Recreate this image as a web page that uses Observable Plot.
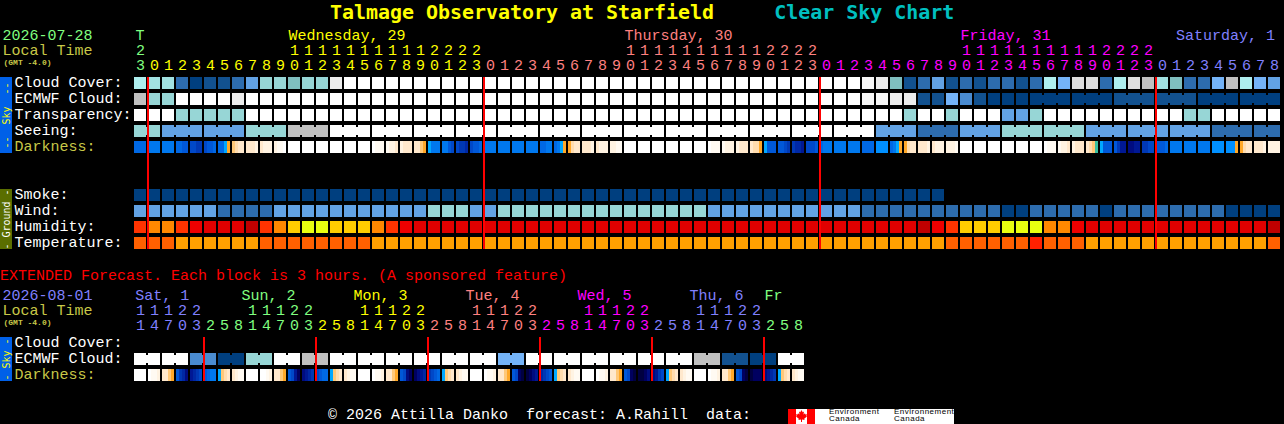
<!DOCTYPE html>
<html>
<head>
<meta charset="utf-8">
<script src="https://cdn.jsdelivr.net/npm/d3@7"></script>
<script src="https://cdn.jsdelivr.net/npm/@observablehq/plot@0.6"></script>
<style>
html,body{margin:0;padding:0;background:#000;overflow:hidden;width:1284px;height:424px}
#title{height:26px;box-sizing:border-box;padding-left:330px;font:bold 19.95px/24px "DejaVu Sans Mono",monospace;white-space:pre;color:#ffff00}
#title span{color:#00c0c0}
#ext{height:20px;font:15px/21px "Liberation Mono",monospace;color:#ff0000;white-space:pre}
#foot{position:relative;height:38px;font:15px "Liberation Mono",monospace;color:#fff;white-space:pre}
#foot .t{position:absolute;left:328px;top:21px;line-height:17px}
#logo{position:absolute;left:788px;top:23px;width:166px;height:15px;background:#fff;font:8px/7px "Liberation Sans",sans-serif;letter-spacing:.5px;color:#000}
#logo i{position:absolute;top:0;width:8px;height:15px;background:#f00}
#logo b{position:absolute;top:-1px;font-weight:normal;white-space:pre}
svg{display:block}
</style>
</head>
<body>
<div id="title">Talmage Observatory at Starfield     <span>Clear Sky Chart</span></div>
<div id="main"></div>
<div id="ext">EXTENDED Forecast. Each block is 3 hours. (A sponsored feature)</div>
<div id="extChart"></div>
<div id="foot"><div class="t">© 2026 Attilla Danko  forecast: A.Rahill  data:</div>
<div id="logo"><i style="left:0"></i><i style="left:19px"></i>
<svg style="position:absolute;left:8px;top:1px" width="11" height="12" viewBox="0 0 11 12"><polygon fill="#f00" points="5.5,0 6.7,2.2 8,1.6 7.5,4.4 9,3.2 9.4,4.4 11,4.2 10.4,6 11,6.6 8.2,8.8 8.6,10 6,9.6 6,12 5,12 5,9.6 2.4,10 2.8,8.8 0,6.6 0.6,6 0,4.2 1.6,4.4 2,3.2 3.5,4.4 3,1.6 4.3,2.2"/></svg>
<b style="left:41px">Environment
Canada</b><b style="left:106px">Environnement
Canada</b></div></div>

<script>
// ---------- block colours ----------
const skyPalette = {0:"#003f7f",1:"#12518f",2:"#2d6cae",3:"#62a2e4",4:"#74b3f7",E:"#4a8bd0",
  5:"#aeeeee",6:"#a2e2e2",7:"#97d6d6",8:"#7fbfbf",9:"#c0c0c0",A:"#dedede",B:"#ececec",D:"#f7f7f7",C:"#ffffff"};
const heatPalette = {d:"#bf0000",r:"#e00000",e:"#ee0000",x:"#ff2000",s:"#ff3300",f:"#ff6000",o:"#ff8800",a:"#ffa000",m:"#ffcc00",y:"#e8ff10"};
const darkPalette = {a:"#ffffff",b:"#fffaf2",c:"#fff3e2",d:"#ffe8cc",e:"#ffdcae",f:"#ffc878",g:"#ffa828",h:"#38c0a0",
  i:"#00a8ff",j:"#0090ff",k:"#0078ee",l:"#0068e4",m:"#0058d8",n:"#0048c8",o:"#0038b4",p:"#0028a4",q:"#001894",r:"#000c80",s:"#000060",t:"#000040"};

// ---------- hourly values, written as code*count runs ----------
const cloudCover = "5 6*2 2 0 1*2 2 3 7*2 8 7*2 B C*37 D B 8 1 2 3 1 2 1 2*2 1 2 5 4 A*2 2 5 A 9 6 8 2*2 4 9 5 4 3";
const ecmwfCloud = "9 7*2 C*4 B C*44 D*2 B*2 1*2 4 E 1 0*9 1*6 0*6";
const transparency = "C*3 7*5 C*47 7 C*2 7 C*3 3*2 7 C*10 7*2 C*5";
const seeing = "7*2 3*6 7*3 9*3 C*39 3*3 2*3 3*3 7*6 3*9 2*5";
const smoke = "0*58";
const wind = "3*6 2*4 3*11 7*3 3*2 7*15 3*11 2*10 0*2 2*5 0 2*8 0*4";
const humidity = "s o*2 s e r*3 d s o m y*2 m*3 o s e r*36 d e s m*3 y*3 o*2 e r*13 d";
const temperature = "f*3 a*6 f*8 a*41 f*6 x f*3 a*13 f";
const darkness = ["llll","kkkk","kkkk","llmm","nnoo","nmml","llig","fedd","dddc","dccc","cbba",
  "aaaa","aaaa","aaaa","aaaa","aaaa","aaaa","abbb","bccd","cddd","ddfg",
  "ikkk","kkmn","noop","nmml","kkkk","kkkk","kkkk","kkkk","llkk","lkig","gedd","dddc","dccc","ccbb",
  "aaaa","aaaa","aaaa","aaaa","aaaa","aaaa","abbb","bccc","cddd","deeg",
  "immm","mmno","oppq","nnnm","lkkk","kkkk","kkkk","llll","jjjj","lkig","gedd","dddc","dccc","cccb",
  "aaaa","aaaa","aaaa","aaaa","aaaa","aaaa","abbb","bccd","cddd","defh",
  "immm","moqq","rrqq","oonn","mmml","kkkk","kkkk","kkkk","jjjj","jjjg","gedd","dddc","cccc"];
const hourOnes = "3"+"012345678901234567890123"+"012345678901234567890123"+"012345678901234567890123"+"012345678";
const hourTens = "2"+"          11111111112222"+"          11111111112222"+"          11111111112222"+"         ";
const midnights = [1,25,49,73];
const seeingJoined = [[0,2],[2,3],[5,3],[8,3],[11,3],[14,3],[17,3],[20,3],[23,3],[26,3],[29,3],[32,3],[35,3],[38,3],[41,3],[44,3],[47,3],[50,3],[53,3],[56,3],[59,3],[62,3],[65,3],[68,3],[71,3],[74,3],[77,3],[80,2]];
const ecmwfJoined = [[64,3],[67,3],[70,3],[73,3],[76,3],[79,3]];

// ---------- extended (3-hourly) values ----------
const extEcmwf = "C*4 E*2 0*2 7*2 C*2 9*2 C*12 4*2 C*12 9*2 1*2 0*2 C*2";
const extDarkness = ["aaaa","abbc","ddfg","mopr","qpon","mlkk","ifed","dcbb",
  "aaaa","aabc","ddfg","mnqs","rqpo","nmll","ifed","dcbb",
  "aaaa","abbc","ddfg","mnrs","srqp","onml","ifed","dcbb",
  "aaaa","abbc","ddfg","mnst","tsrq","ponm","ifed","dcbb",
  "aaaa","abbc","ddfg","mnst","ttsr","rqon","ifed","dcbb",
  "aaaa","abbc","ddfg","mnst","tsss","rqpo","ifed","dcbb"];
const extOnes = "14703"+"25814703"+"25814703"+"25814703"+"25814703"+"25814703"+"258";
const extTens = "11122"+"   11122"+"   11122"+"   11122"+"   11122"+"   11122"+"   ";
const extMidnights = [5,13,21,29,37,45];
const extJoined = d3.range(24).map(k => [k*2,2]);

// ---------- day labels ----------
const GREEN="#80ff80",YEL="#ffff00",SALMON="#ff8080",MAG="#ff00ff",PERI="#8080ff";
const dayLabels = [
  {col:0.07,text:"T",c:GREEN},{col:11,text:"Wednesday, 29",c:YEL},{col:35,text:"Thursday, 30",c:SALMON},
  {col:59,text:"Friday, 31",c:MAG},{col:74.4,text:"Saturday, 1",c:PERI}];
const dayBands = [{from:0,c:GREEN},{from:1,c:YEL},{from:25,c:SALMON},{from:49,c:MAG},{from:73,c:PERI}];
const extDayLabels = [
  {col:0.05,text:"Sat, 1",c:PERI},{col:7.64,text:"Sun, 2",c:GREEN},{col:15.64,text:"Mon, 3",c:YEL},
  {col:23.64,text:"Tue, 4",c:SALMON},{col:31.64,text:"Wed, 5",c:MAG},{col:39.64,text:"Thu, 6",c:PERI},{col:45,text:"Fr",c:GREEN}];
const extDayBands = [{from:0,c:PERI},{from:5,c:GREEN},{from:13,c:YEL},{from:21,c:SALMON},{from:29,c:MAG},{from:37,c:PERI},{from:45,c:GREEN}];

// ---------- row names ----------
const LABEL="#c8c848";
const skyRows = [{r:0,name:"Cloud Cover:"},{r:1,name:"ECMWF Cloud:"},{r:2,name:"Transparency:"},{r:3,name:"Seeing:"},{r:4,name:"Darkness:",c:LABEL}];
const groundRows = [{r:7,name:"Smoke:"},{r:8,name:"Wind:"},{r:9,name:"Humidity:"},{r:10,name:"Temperature:"}];
const extRows = [{r:0,name:"Cloud Cover:"},{r:1,name:"ECMWF Cloud:"},{r:2,name:"Darkness:",c:LABEL}];

// ---------- helpers ----------
const MONO="Liberation Mono";
const CELL=14, LEFT=134;                 // one column = 14 px, first column starts 134 px in
const col = px => (px-LEFT)/CELL;        // column position of a pixel offset in the gutter
const expand = s => s.split(" ").flatMap(t => { const [c,n]=t.split("*"); return Array.from({length:+(n||1)},()=>c); });
const cells = (codes,r,pal) => expand(codes).map((c,i)=>({i,r,fill:pal[c]}));
const subCells = (rows,r) => rows.flatMap((s,i)=>[...s].map((c,k)=>({x1:i+k*3/CELL,x2:i+(k+1)*3/CELL,r,fill:darkPalette[c]})));
const bridges = (groups,codes,r,pal) => { const v=expand(codes);
  return groups.flatMap(([st,n])=>d3.range(st,st+n-1).map(i=>({i,r,fill:pal[v[i]]}))); };
const HDR={day:-2.625,tens:-1.6875,ones:-0.75};

function build({height,blockRows,bridgeRows,darkRow,lines,lineEnd,ones,tens,bands,labels,rows,dateText,dateColor,bars}){
  const bandColor = i => bands.filter(b=>b.from<=i).at(-1).c;
  const digits = [...ones].map((d,i)=>({i,d,t:tens[i],c:bandColor(i)}));
  const common = {fontFamily:MONO,fontSize:15};
  const gutter = [
    {x:col(2),r:HDR.day,text:dateText,c:dateColor},
    {x:col(2),r:HDR.tens,text:"Local Time",c:LABEL}];
  return Plot.plot({
    width:1284,height,margin:0,
    style:{background:"#000",display:"block"},
    x:{domain:[col(0),col(1284)],range:[0,1284],axis:null},
    y:{domain:[-51/16,(height-51)/16],range:[0,height],axis:null},
    color:{type:"identity"},
    marks:[
      Plot.rect(blockRows,{x1:"i",x2:d=>d.i+1,y1:"r",y2:d=>d.r+1,insetRight:2,insetBottom:4,fill:"fill",shapeRendering:"crispEdges"}),
      Plot.rect(bridgeRows,{x1:d=>d.i+12/CELL,x2:d=>d.i+1,y1:d=>d.r+2/16,y2:d=>d.r+10/16,fill:"fill",shapeRendering:"crispEdges"}),
      Plot.rect(subCells(darkRow.values,darkRow.r),{x1:"x1",x2:"x2",y1:"r",y2:d=>d.r+12/16,fill:"fill",shapeRendering:"crispEdges"}),
      Plot.rect(bars,{x1:col(0),x2:col(12),y1:"r1",y2:"r2",fill:"bg",shapeRendering:"crispEdges"}),
      Plot.text(bars,{x:col(6),y:d=>(d.r1+d.r2)/2,text:"text",rotate:-90,fill:"fg",fontFamily:"DejaVu Sans Mono",fontSize:10}),
      Plot.ruleX(lines,{x:d=>d,y1:0,y2:lineEnd,stroke:"#ff0000",strokeWidth:2,dx:-0.5}),
      Plot.text(digits,{x:d=>d.i+0.42,y:()=>HDR.ones,text:"d",fill:"c",...common}),
      Plot.text(digits.filter(d=>d.t!==" "),{x:d=>d.i+0.42,y:()=>HDR.tens,text:"t",fill:"c",...common}),
      Plot.text(labels,{x:"col",y:()=>HDR.day,text:"text",fill:"c",textAnchor:"start",...common}),
      Plot.text(gutter,{x:"x",y:"r",text:"text",fill:"c",textAnchor:"start",...common}),
      Plot.text(["(GMT -4.0)"],{x:col(3),y:()=>HDR.ones-0.18,text:d=>d,fill:LABEL,textAnchor:"start",fontFamily:MONO,fontSize:8,fontWeight:"bold"}),
      Plot.text(rows,{x:col(14),y:d=>d.r+0.27,text:"name",fill:d=>d.c||"#ffffff",textAnchor:"start",...common})
    ]
  });
}

document.getElementById("main").append(build({
  height:240,
  blockRows:[...cells(cloudCover,0,skyPalette),...cells(ecmwfCloud,1,skyPalette),...cells(transparency,2,skyPalette),
    ...cells(seeing,3,skyPalette),...cells(smoke,7,skyPalette),...cells(wind,8,skyPalette),
    ...cells(humidity,9,heatPalette),...cells(temperature,10,heatPalette)],
  bridgeRows:[...bridges(seeingJoined,seeing,3,skyPalette),...bridges(ecmwfJoined,ecmwfCloud,1,skyPalette)],
  darkRow:{values:darkness,r:4},
  lines:midnights,lineEnd:172/16,
  ones:hourOnes,tens:hourTens,bands:dayBands,labels:dayLabels,
  rows:[...skyRows,...groundRows],
  dateText:"2026-07-28",dateColor:GREEN,
  bars:[{r1:0,r2:76/16,bg:"#0060e8",fg:"#ffff00",text:"--  Sky  --"},
        {r1:7,r2:7+60/16,bg:"#5a6e00",fg:"#ffffff",text:"- Ground -"}]
}));

document.getElementById("extChart").append(build({
  height:100,
  blockRows:cells(extEcmwf,1,skyPalette),
  bridgeRows:bridges(extJoined,extEcmwf,1,skyPalette),
  darkRow:{values:extDarkness,r:2},
  lines:extMidnights,lineEnd:44/16,
  ones:extOnes,tens:extTens,bands:extDayBands,labels:extDayLabels,
  rows:extRows,
  dateText:"2026-08-01",dateColor:PERI,
  bars:[{r1:0,r2:44/16,bg:"#0060e8",fg:"#ffff00",text:"- Sky -"}]
}));
</script>
</body>
</html>
